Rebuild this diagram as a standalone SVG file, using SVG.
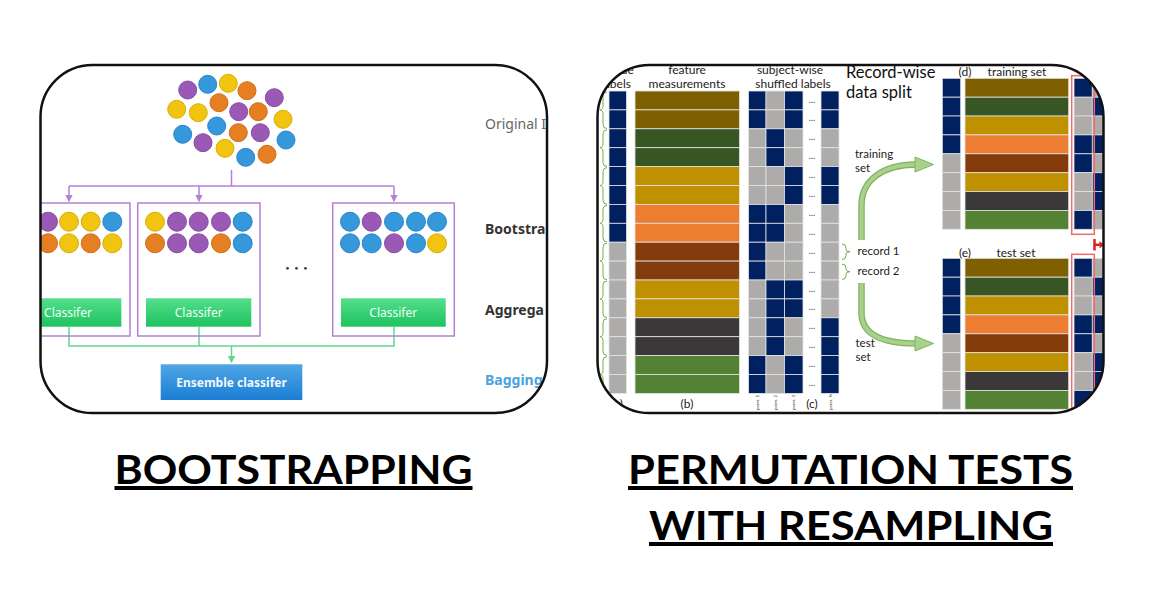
<svg xmlns="http://www.w3.org/2000/svg" width="1152" height="597" viewBox="0 0 1152 597">
<defs>
<style>
.frame{fill:none;stroke:#111;stroke-width:2.5}
.pu{fill:#9B59B6;stroke:#8A4AA6}
.bl{fill:#3498DB;stroke:#2A86C8}
.ye{fill:#F1C40F;stroke:#D9AE0A}
.or{fill:#E67E22;stroke:#CF6E17}
.box{fill:none;stroke:#B480DA;stroke-width:1.5}
.pl{fill:none;stroke:#B480DA;stroke-width:1.5}
.gl{fill:none;stroke:#5FD88E;stroke-width:1.5}
.clf{fill:url(#gg)}
.clt{font-family:"Noto Sans",sans-serif;font-size:12px;fill:#F0FFF5;text-anchor:middle}
.side{font-family:"Noto Sans",sans-serif;font-size:14px}
.n{fill:#002060}
.g{fill:#AEABAB}
.c{stroke:#E4E4E4;stroke-width:0.8}
.f1{fill:#7F6000}.f2{fill:#375623}.f3{fill:#BF9000}.f4{fill:#ED7D31}.f5{fill:#843C0C}.f6{fill:#3A3838}.f7{fill:#548235}
.lb{font-family:Lato,"Noto Sans",sans-serif;font-size:12px;fill:#222;text-anchor:middle}
.sm{font-family:Lato,"Noto Sans",sans-serif;font-size:11.5px;fill:#222}
.dots{font-family:Lato,sans-serif;font-size:9px;fill:#444;text-anchor:middle}
.tiny{font-family:Lato,sans-serif;font-size:4.5px;fill:#333}
.br{fill:none;stroke:#70AD47;stroke-width:1}
.red{fill:none;stroke:#F26B6B;stroke-width:1.5}
.title{font-family:Lato,"Liberation Sans",sans-serif;font-weight:bold;font-size:40px;fill:#000;text-decoration:underline;text-anchor:middle}
</style>
<linearGradient id="gg" x1="0" y1="0" x2="0" y2="1"><stop offset="0" stop-color="#55DE8C"/><stop offset="1" stop-color="#1DC25F"/></linearGradient>
<linearGradient id="bg" x1="0" y1="0" x2="0" y2="1"><stop offset="0" stop-color="#4FA6E4"/><stop offset="1" stop-color="#1B7DD4"/></linearGradient>
<clipPath id="clipL"><rect x="40.5" y="65" width="506.5" height="348" rx="52" ry="52"/></clipPath>
<clipPath id="clipR"><rect x="597.5" y="65" width="506" height="348" rx="52" ry="52"/></clipPath>
<marker id="mp" viewBox="0 0 6 6" refX="5" refY="3" markerWidth="5" markerHeight="5" orient="auto"><path d="M0,0 L6,3 L0,6 z" fill="#B480DA"/></marker>
<marker id="mg" viewBox="0 0 6 6" refX="5" refY="3" markerWidth="5" markerHeight="5" orient="auto"><path d="M0,0 L6,3 L0,6 z" fill="#5FD88E"/></marker>
</defs>
<rect width="1152" height="597" fill="#fff"/>

<!-- LEFT PANEL -->
<g clip-path="url(#clipL)">
<g id="original-data">
<circle class="pu" cx="187.7" cy="90" r="9"/><circle class="bl" cx="207.7" cy="84.3" r="9"/><circle class="ye" cx="228.3" cy="83.3" r="9"/><circle class="or" cx="247" cy="90.7" r="9"/><circle class="pu" cx="274.3" cy="97.7" r="9"/>
<circle class="ye" cx="176.7" cy="109.3" r="9"/><circle class="ye" cx="198.3" cy="112.7" r="9"/><circle class="or" cx="219" cy="102.7" r="9"/><circle class="pu" cx="238.7" cy="111.7" r="9"/><circle class="or" cx="258.3" cy="111.7" r="9"/><circle class="ye" cx="283" cy="119.3" r="9"/>
<circle class="bl" cx="182.7" cy="134.3" r="9"/><circle class="bl" cx="216.7" cy="126" r="9"/><circle class="or" cx="238.3" cy="132.7" r="9"/><circle class="pu" cx="260.3" cy="132.7" r="9"/><circle class="bl" cx="286" cy="140" r="9"/>
<circle class="pu" cx="203" cy="142.7" r="9"/><circle class="ye" cx="225" cy="148.3" r="9"/><circle class="bl" cx="245.7" cy="157.3" r="9"/><circle class="or" cx="267" cy="154.3" r="9"/>
</g>
<g id="connectors-left">
<path class="pl" d="M231.5,170 V186 M69,186 H394"/>
<path class="pl" d="M69,186 V201" marker-end="url(#mp)"/>
<path class="pl" d="M199,186 V201" marker-end="url(#mp)"/>
<path class="pl" d="M394,186 V201" marker-end="url(#mp)"/>
<path class="gl" d="M69,327 V346 H394 V327 M199,327 V346"/>
<path class="gl" d="M231.5,346 V362" marker-end="url(#mg)"/>
</g>
<g id="bootstrap-1">
<rect class="box" x="8" y="203" width="122" height="133"/>
<circle class="pu" cx="48" cy="221.7" r="9.5"/><circle class="ye" cx="69" cy="221.7" r="9.5"/><circle class="ye" cx="90.7" cy="221.7" r="9.5"/><circle class="bl" cx="112.3" cy="221.7" r="9.5"/>
<circle class="or" cx="48" cy="243.3" r="9.5"/><circle class="ye" cx="69" cy="243.3" r="9.5"/><circle class="or" cx="90.7" cy="243.3" r="9.5"/><circle class="ye" cx="112.3" cy="243.3" r="9.5"/>
<rect class="clf" x="16.5" y="298.3" width="104.8" height="28.4"/>
<text class="clt" x="68" y="316.5">Classifer</text>
</g>
<g id="bootstrap-2">
<rect class="box" x="137.7" y="203" width="122.3" height="133"/>
<circle class="ye" cx="155" cy="221.7" r="9.5"/><circle class="pu" cx="177" cy="221.7" r="9.5"/><circle class="pu" cx="198.7" cy="221.7" r="9.5"/><circle class="pu" cx="221" cy="221.7" r="9.5"/><circle class="bl" cx="242.7" cy="221.7" r="9.5"/>
<circle class="or" cx="155" cy="243.3" r="9.5"/><circle class="pu" cx="177" cy="243.3" r="9.5"/><circle class="pu" cx="198.7" cy="243.3" r="9.5"/><circle class="or" cx="221" cy="243.3" r="9.5"/><circle class="bl" cx="242.7" cy="243.3" r="9.5"/>
<rect class="clf" x="146" y="298.3" width="105.3" height="28.4"/>
<text class="clt" x="198.7" y="316.5">Classifer</text>
</g>
<g id="ellipsis">
<circle cx="287.5" cy="268.3" r="1.4" fill="#444"/><circle cx="296.5" cy="268.3" r="1.4" fill="#444"/><circle cx="305.5" cy="268.3" r="1.4" fill="#444"/>
</g>
<g id="bootstrap-3">
<rect class="box" x="332.7" y="203" width="121.6" height="133"/>
<circle class="bl" cx="350" cy="221.7" r="9.5"/><circle class="pu" cx="371.7" cy="221.7" r="9.5"/><circle class="bl" cx="394" cy="221.7" r="9.5"/><circle class="bl" cx="416" cy="221.7" r="9.5"/><circle class="bl" cx="437" cy="221.7" r="9.5"/>
<circle class="bl" cx="350" cy="243.3" r="9.5"/><circle class="bl" cx="371.7" cy="243.3" r="9.5"/><circle class="pu" cx="394" cy="243.3" r="9.5"/><circle class="bl" cx="416" cy="243.3" r="9.5"/><circle class="ye" cx="437" cy="243.3" r="9.5"/>
<rect class="clf" x="341" y="298.3" width="104.7" height="28.4"/>
<text class="clt" x="393.3" y="316.5">Classifer</text>
</g>
<g id="ensemble">
<rect x="160.7" y="364.3" width="141.6" height="35.7" fill="url(#bg)"/>
<text x="231.5" y="386.5" font-family="'Noto Sans',sans-serif" font-size="12" font-weight="bold" fill="#F2F8FF" text-anchor="middle">Ensemble classifer</text>
</g>
<g id="side-labels">
<text class="side" x="485" y="129" fill="#666">Original I</text>
<text class="side" x="485" y="234" fill="#333" font-weight="bold">Bootstra</text>
<text class="side" x="485" y="315" fill="#333" font-weight="bold">Aggrega</text>
<text class="side" x="485" y="385" fill="#4AA3E0" font-weight="bold">Bagging</text>
</g>
</g>
<rect class="frame" x="40.5" y="65" width="506.5" height="348" rx="52" ry="52"/>

<!-- RIGHT PANEL -->
<g clip-path="url(#clipR)">
<g id="headers">
<text class="lb" x="623" y="74">true</text>
<text class="lb" x="616" y="88">labels</text>
<text class="lb" x="687" y="74">feature</text>
<text class="lb" x="687" y="88">measurements</text>
<text class="lb" x="790" y="74">subject-wise</text>
<text class="lb" x="793" y="88">shuffled labels</text>
<text x="846" y="77.5" font-family="Lato,sans-serif" font-size="16.5" fill="#111">Record-wise</text>
<text x="846" y="97.5" font-family="Lato,sans-serif" font-size="16.5" fill="#111">data split</text>
</g>
<g id="braces-left">
<path class="br" d="M607,92 Q603,92 603,96 V105.5 Q603,109.9 600,109.9 Q603,109.9 603,114 V124.5 Q603,128.5 607,128.5"/>
<path class="br" d="M607,129.8 Q603,129.8 603,133.8 V143.5 Q603,147.7 600,147.7 Q603,147.7 603,152 V162.5 Q603,166.4 607,166.4"/>
<path class="br" d="M607,167.6 Q603,167.6 603,171.6 V181.3 Q603,185.5 600,185.5 Q603,185.5 603,189.7 V200.3 Q603,204.2 607,204.2"/>
<path class="br" d="M607,205.4 Q603,205.4 603,209.4 V219 Q603,223.3 600,223.3 Q603,223.3 603,227.5 V238 Q603,242 607,242"/>
<path class="br" d="M607,243.2 Q603,243.2 603,247.2 V257 Q603,261.1 600,261.1 Q603,261.1 603,265.3 V275.8 Q603,279.8 607,279.8"/>
<path class="br" d="M607,281 Q603,281 603,285 V294.8 Q603,298.9 600,298.9 Q603,298.9 603,303 V313.6 Q603,317.6 607,317.6"/>
<path class="br" d="M607,318.8 Q603,318.8 603,322.8 V332.6 Q603,336.7 600,336.7 Q603,336.7 603,340.8 V351.4 Q603,355.4 607,355.4"/>
<path class="br" d="M607,356.6 Q603,356.6 603,360.6 V370.4 Q603,374.5 600,374.5 Q603,374.5 603,378.6 V389.2 Q603,393.2 607,393.2"/>
</g>
<g id="true-labels" class="c">
<rect class="n" x="609" y="91" width="17.5" height="18.9"/><rect class="n" x="609" y="109.9" width="17.5" height="18.9"/><rect class="n" x="609" y="128.8" width="17.5" height="18.9"/><rect class="n" x="609" y="147.7" width="17.5" height="18.9"/>
<rect class="n" x="609" y="166.6" width="17.5" height="18.9"/><rect class="n" x="609" y="185.5" width="17.5" height="18.9"/><rect class="n" x="609" y="204.4" width="17.5" height="18.9"/><rect class="n" x="609" y="223.3" width="17.5" height="18.9"/>
<rect class="g" x="609" y="242.2" width="17.5" height="18.9"/><rect class="g" x="609" y="261.1" width="17.5" height="18.9"/><rect class="g" x="609" y="280" width="17.5" height="18.9"/><rect class="g" x="609" y="298.9" width="17.5" height="18.9"/>
<rect class="g" x="609" y="317.8" width="17.5" height="18.9"/><rect class="g" x="609" y="336.7" width="17.5" height="18.9"/><rect class="g" x="609" y="355.6" width="17.5" height="18.9"/><rect class="g" x="609" y="374.5" width="17.5" height="18.9"/>
</g>
<g id="features" class="c">
<rect class="f1" x="635" y="91" width="104.5" height="18.9"/><rect class="f1" x="635" y="109.9" width="104.5" height="18.9"/>
<rect class="f2" x="635" y="128.8" width="104.5" height="18.9"/><rect class="f2" x="635" y="147.7" width="104.5" height="18.9"/>
<rect class="f3" x="635" y="166.6" width="104.5" height="18.9"/><rect class="f3" x="635" y="185.5" width="104.5" height="18.9"/>
<rect class="f4" x="635" y="204.4" width="104.5" height="18.9"/><rect class="f4" x="635" y="223.3" width="104.5" height="18.9"/>
<rect class="f5" x="635" y="242.2" width="104.5" height="18.9"/><rect class="f5" x="635" y="261.1" width="104.5" height="18.9"/>
<rect class="f3" x="635" y="280" width="104.5" height="18.9"/><rect class="f3" x="635" y="298.9" width="104.5" height="18.9"/>
<rect class="f6" x="635" y="317.8" width="104.5" height="18.9"/><rect class="f6" x="635" y="336.7" width="104.5" height="18.9"/>
<rect class="f7" x="635" y="355.6" width="104.5" height="18.9"/><rect class="f7" x="635" y="374.5" width="104.5" height="18.9"/>
</g>
<g id="shuffled" class="c">
<rect class="n" x="748.5" y="91" width="17.5" height="18.9"/><rect class="n" x="748.5" y="109.9" width="17.5" height="18.9"/><rect class="g" x="748.5" y="128.8" width="17.5" height="18.9"/><rect class="g" x="748.5" y="147.7" width="17.5" height="18.9"/>
<rect class="g" x="748.5" y="166.6" width="17.5" height="18.9"/><rect class="g" x="748.5" y="185.5" width="17.5" height="18.9"/><rect class="n" x="748.5" y="204.4" width="17.5" height="18.9"/><rect class="n" x="748.5" y="223.3" width="17.5" height="18.9"/>
<rect class="n" x="748.5" y="242.2" width="17.5" height="18.9"/><rect class="n" x="748.5" y="261.1" width="17.5" height="18.9"/><rect class="g" x="748.5" y="280" width="17.5" height="18.9"/><rect class="g" x="748.5" y="298.9" width="17.5" height="18.9"/>
<rect class="g" x="748.5" y="317.8" width="17.5" height="18.9"/><rect class="g" x="748.5" y="336.7" width="17.5" height="18.9"/><rect class="n" x="748.5" y="355.6" width="17.5" height="18.9"/><rect class="n" x="748.5" y="374.5" width="17.5" height="18.9"/>
<rect class="g" x="766" y="91" width="18.5" height="18.9"/><rect class="g" x="766" y="109.9" width="18.5" height="18.9"/><rect class="n" x="766" y="128.8" width="18.5" height="18.9"/><rect class="n" x="766" y="147.7" width="18.5" height="18.9"/>
<rect class="g" x="766" y="166.6" width="18.5" height="18.9"/><rect class="g" x="766" y="185.5" width="18.5" height="18.9"/><rect class="n" x="766" y="204.4" width="18.5" height="18.9"/><rect class="n" x="766" y="223.3" width="18.5" height="18.9"/>
<rect class="g" x="766" y="242.2" width="18.5" height="18.9"/><rect class="g" x="766" y="261.1" width="18.5" height="18.9"/><rect class="n" x="766" y="280" width="18.5" height="18.9"/><rect class="n" x="766" y="298.9" width="18.5" height="18.9"/>
<rect class="n" x="766" y="317.8" width="18.5" height="18.9"/><rect class="n" x="766" y="336.7" width="18.5" height="18.9"/><rect class="g" x="766" y="355.6" width="18.5" height="18.9"/><rect class="g" x="766" y="374.5" width="18.5" height="18.9"/>
<rect class="n" x="784.5" y="91" width="18.5" height="18.9"/><rect class="n" x="784.5" y="109.9" width="18.5" height="18.9"/><rect class="g" x="784.5" y="128.8" width="18.5" height="18.9"/><rect class="g" x="784.5" y="147.7" width="18.5" height="18.9"/>
<rect class="n" x="784.5" y="166.6" width="18.5" height="18.9"/><rect class="n" x="784.5" y="185.5" width="18.5" height="18.9"/><rect class="g" x="784.5" y="204.4" width="18.5" height="18.9"/><rect class="g" x="784.5" y="223.3" width="18.5" height="18.9"/>
<rect class="g" x="784.5" y="242.2" width="18.5" height="18.9"/><rect class="g" x="784.5" y="261.1" width="18.5" height="18.9"/><rect class="n" x="784.5" y="280" width="18.5" height="18.9"/><rect class="n" x="784.5" y="298.9" width="18.5" height="18.9"/>
<rect class="g" x="784.5" y="317.8" width="18.5" height="18.9"/><rect class="g" x="784.5" y="336.7" width="18.5" height="18.9"/><rect class="n" x="784.5" y="355.6" width="18.5" height="18.9"/><rect class="n" x="784.5" y="374.5" width="18.5" height="18.9"/>
<rect class="n" x="821" y="91" width="18" height="18.9"/><rect class="n" x="821" y="109.9" width="18" height="18.9"/><rect class="g" x="821" y="128.8" width="18" height="18.9"/><rect class="g" x="821" y="147.7" width="18" height="18.9"/>
<rect class="n" x="821" y="166.6" width="18" height="18.9"/><rect class="n" x="821" y="185.5" width="18" height="18.9"/><rect class="g" x="821" y="204.4" width="18" height="18.9"/><rect class="g" x="821" y="223.3" width="18" height="18.9"/>
<rect class="g" x="821" y="242.2" width="18" height="18.9"/><rect class="g" x="821" y="261.1" width="18" height="18.9"/><rect class="g" x="821" y="280" width="18" height="18.9"/><rect class="g" x="821" y="298.9" width="18" height="18.9"/>
<rect class="n" x="821" y="317.8" width="18" height="18.9"/><rect class="n" x="821" y="336.7" width="18" height="18.9"/><rect class="n" x="821" y="355.6" width="18" height="18.9"/><rect class="n" x="821" y="374.5" width="18" height="18.9"/>
</g>
<g id="ellipses" class="dots">
<text x="812" y="102.5">...</text><text x="812" y="121.4">...</text><text x="812" y="140.3">...</text><text x="812" y="159.2">...</text>
<text x="812" y="178.1">...</text><text x="812" y="197">...</text><text x="812" y="215.9">...</text><text x="812" y="234.8">...</text>
<text x="812" y="253.7">...</text><text x="812" y="272.6">...</text><text x="812" y="291.5">...</text><text x="812" y="310.4">...</text>
<text x="812" y="329.3">...</text><text x="812" y="348.2">...</text><text x="812" y="367.1">...</text><text x="812" y="386">...</text>
</g>
<g id="bottom-labels">
<text class="lb" x="617" y="408">(a)</text>
<text class="lb" x="687" y="408">(b)</text>
<text class="lb" x="812" y="408">(c)</text>
<text class="tiny" transform="translate(758.5,410) rotate(-90)">perm. 1</text>
<text class="tiny" transform="translate(776.5,410) rotate(-90)">perm. 2</text>
<text class="tiny" transform="translate(795,410) rotate(-90)">perm. 3</text>
<text class="tiny" transform="translate(831.5,410) rotate(-90)">perm. N</text>
</g>
<g id="record-braces">
<path class="br" d="M842,244 Q846,244 846,248 V249.5 Q846,251.7 850,251.7 Q846,251.7 846,254 V255.5 Q846,259.5 842,259.5"/>
<path class="br" d="M842,264 Q846,264 846,268 V269.5 Q846,271.7 850,271.7 Q846,271.7 846,274 V275.5 Q846,279.5 842,279.5"/>
<text class="sm" x="857.5" y="255">record 1</text>
<text class="sm" x="857.5" y="275">record 2</text>
</g>
<g id="split-arrows">
<text class="sm" x="855" y="158">training</text>
<text class="sm" x="855" y="172">set</text>
<text class="sm" x="855.5" y="346.5">test</text>
<text class="sm" x="855.5" y="360.5">set</text>
<path d="M861.5,240 V205 C861.5,181 882,164.5 916,164.5" fill="none" stroke="#7FB35A" stroke-width="6.5"/>
<path d="M861.5,240 V205 C861.5,181 882,164.5 916,164.5" fill="none" stroke="#A9D18E" stroke-width="4"/>
<polygon points="915,157 933.5,164.5 915,172" fill="#A9D18E" stroke="#7FB35A" stroke-width="1"/>
<path d="M861.5,283 V313 C861.5,333 880,343.5 916,343.5" fill="none" stroke="#7FB35A" stroke-width="6.5"/>
<path d="M861.5,283 V313 C861.5,333 880,343.5 916,343.5" fill="none" stroke="#A9D18E" stroke-width="4"/>
<polygon points="915,336 933.5,343.5 915,351" fill="#A9D18E" stroke="#7FB35A" stroke-width="1"/>
</g>
<g id="training-set">
<text class="lb" x="965" y="75.5">(d)</text>
<text class="lb" x="1017" y="75.5" font-size="11.5">training set</text>
<g class="c">
<rect class="n" x="942.3" y="78.3" width="18.4" height="18.9"/><rect class="n" x="942.3" y="97.2" width="18.4" height="18.9"/><rect class="n" x="942.3" y="116" width="18.4" height="18.9"/><rect class="n" x="942.3" y="134.9" width="18.4" height="18.9"/>
<rect class="g" x="942.3" y="153.8" width="18.4" height="18.9"/><rect class="g" x="942.3" y="172.7" width="18.4" height="18.9"/><rect class="g" x="942.3" y="191.5" width="18.4" height="18.9"/><rect class="g" x="942.3" y="210.4" width="18.4" height="18.9"/>
<rect class="f1" x="965" y="78.3" width="103.7" height="18.9"/><rect class="f2" x="965" y="97.2" width="103.7" height="18.9"/><rect class="f3" x="965" y="116" width="103.7" height="18.9"/><rect class="f4" x="965" y="134.9" width="103.7" height="18.9"/>
<rect class="f5" x="965" y="153.8" width="103.7" height="18.9"/><rect class="f3" x="965" y="172.7" width="103.7" height="18.9"/><rect class="f6" x="965" y="191.5" width="103.7" height="18.9"/><rect class="f7" x="965" y="210.4" width="103.7" height="18.9"/>
<rect class="n" x="1074" y="78.3" width="18.3" height="18.9"/><rect class="g" x="1074" y="97.2" width="18.3" height="18.9"/><rect class="g" x="1074" y="116" width="18.3" height="18.9"/><rect class="n" x="1074" y="134.9" width="18.3" height="18.9"/>
<rect class="n" x="1074" y="153.8" width="18.3" height="18.9"/><rect class="g" x="1074" y="172.7" width="18.3" height="18.9"/><rect class="g" x="1074" y="191.5" width="18.3" height="18.9"/><rect class="n" x="1074" y="210.4" width="18.3" height="18.9"/>
<rect class="g" x="1092.3" y="78.3" width="18" height="18.9"/><rect class="n" x="1092.3" y="97.2" width="18" height="18.9"/><rect class="g" x="1092.3" y="116" width="18" height="18.9"/><rect class="n" x="1092.3" y="134.9" width="18" height="18.9"/>
<rect class="g" x="1092.3" y="153.8" width="18" height="18.9"/><rect class="n" x="1092.3" y="172.7" width="18" height="18.9"/><rect class="n" x="1092.3" y="191.5" width="18" height="18.9"/><rect class="g" x="1092.3" y="210.4" width="18" height="18.9"/>
</g>
<rect class="red" x="1071.7" y="75.7" width="22.6" height="158.6"/>
</g>
<g id="test-set">
<text class="lb" x="965" y="256.5">(e)</text>
<text class="lb" x="1016" y="256.5" font-size="11.5">test set</text>
<g class="c">
<rect class="n" x="942.3" y="258.3" width="18.4" height="18.9"/><rect class="n" x="942.3" y="277.2" width="18.4" height="18.9"/><rect class="n" x="942.3" y="296" width="18.4" height="18.9"/><rect class="n" x="942.3" y="314.9" width="18.4" height="18.9"/>
<rect class="g" x="942.3" y="333.8" width="18.4" height="18.9"/><rect class="g" x="942.3" y="352.7" width="18.4" height="18.9"/><rect class="g" x="942.3" y="371.5" width="18.4" height="18.9"/><rect class="g" x="942.3" y="390.4" width="18.4" height="18.9"/>
<rect class="f1" x="965" y="258.3" width="103.7" height="18.9"/><rect class="f2" x="965" y="277.2" width="103.7" height="18.9"/><rect class="f3" x="965" y="296" width="103.7" height="18.9"/><rect class="f4" x="965" y="314.9" width="103.7" height="18.9"/>
<rect class="f5" x="965" y="333.8" width="103.7" height="18.9"/><rect class="f3" x="965" y="352.7" width="103.7" height="18.9"/><rect class="f6" x="965" y="371.5" width="103.7" height="18.9"/><rect class="f7" x="965" y="390.4" width="103.7" height="18.9"/>
<rect class="n" x="1074" y="258.3" width="18.3" height="18.9"/><rect class="g" x="1074" y="277.2" width="18.3" height="18.9"/><rect class="g" x="1074" y="296" width="18.3" height="18.9"/><rect class="n" x="1074" y="314.9" width="18.3" height="18.9"/>
<rect class="n" x="1074" y="333.8" width="18.3" height="18.9"/><rect class="g" x="1074" y="352.7" width="18.3" height="18.9"/><rect class="g" x="1074" y="371.5" width="18.3" height="18.9"/><rect class="n" x="1074" y="390.4" width="18.3" height="18.9"/>
<rect class="g" x="1092.3" y="258.3" width="18" height="18.9"/><rect class="n" x="1092.3" y="277.2" width="18" height="18.9"/><rect class="g" x="1092.3" y="296" width="18" height="18.9"/><rect class="n" x="1092.3" y="314.9" width="18" height="18.9"/>
<rect class="g" x="1092.3" y="333.8" width="18" height="18.9"/><rect class="n" x="1092.3" y="352.7" width="18" height="18.9"/><rect class="n" x="1092.3" y="371.5" width="18" height="18.9"/><rect class="n" x="1092.3" y="390.4" width="18" height="18.9"/>
</g>
<rect class="red" x="1071.7" y="254.3" width="22.6" height="170"/>
</g>
<g id="red-marker">
<path d="M1094.5,239 V250.5 M1094.5,244.8 H1100" fill="none" stroke="#D8231E" stroke-width="2.5"/>
<polygon points="1099.5,241 1104,244.8 1099.5,248.6" fill="#D8231E"/>
</g>
</g>
<rect class="frame" x="597.5" y="65" width="506" height="348" rx="52" ry="52"/>

<!-- TITLES -->
<text class="title" x="293.5" y="484" textLength="358" lengthAdjust="spacingAndGlyphs">BOOTSTRAPPING</text>
<text class="title" x="850.5" y="484" textLength="445" lengthAdjust="spacingAndGlyphs">PERMUTATION TESTS</text>
<text class="title" x="851" y="540" textLength="404" lengthAdjust="spacingAndGlyphs">WITH RESAMPLING</text>
</svg>
